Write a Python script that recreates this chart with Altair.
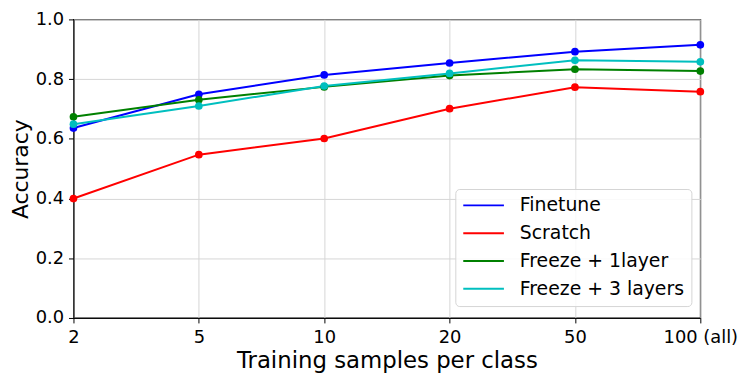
import altair as alt
import pandas as pd

categories = ["2", "5", "10", "20", "50", "100 (all)"]
series_names = ["Finetune", "Scratch", "Freeze + 1layer", "Freeze + 3 layers"]
finetune = [0.636, 0.749, 0.814, 0.854, 0.892, 0.915]
scratch = [0.400, 0.547, 0.601, 0.701, 0.773, 0.758]
freeze1 = [0.674, 0.731, 0.774, 0.812, 0.833, 0.827]
freeze3 = [0.649, 0.710, 0.777, 0.819, 0.863, 0.858]
colors = ["#0000ff", "#ff0000", "#008000", "#00bfbf"]

rows = []
for name, vals in zip(series_names, [finetune, scratch, freeze1, freeze3]):
    for c, v in zip(categories, vals):
        rows.append({"samples": c, "acc": v, "method": name})
df = pd.DataFrame(rows)

FONT = "DejaVu Sans"

x = alt.X("samples:O", sort=categories, scale=alt.Scale(padding=0),
          axis=alt.Axis(title="Training samples per class", labelAngle=0,
                        labelFontSize=18, titleFontSize=23, titleFontWeight="normal",
                        labelColor="black", titleColor="black", tickColor="black",
                        domainColor="black", tickSize=5, labelPadding=6,
                        titlePadding=3, grid=True, gridColor="#d6d6d6",
                        labelFont=FONT, titleFont=FONT))
y = alt.Y("acc:Q", scale=alt.Scale(domain=[0, 1]),
          axis=alt.Axis(title="Accuracy", values=[0, 0.2, 0.4, 0.6, 0.8, 1.0], format=".1f",
                        labelFontSize=18, titleFontSize=22, titleFontWeight="normal",
                        labelColor="black", titleColor="black", tickColor="black",
                        domainColor="black", tickSize=5, labelPadding=5,
                        titlePadding=3, grid=True, gridColor="#d6d6d6",
                        labelFont=FONT, titleFont=FONT))
color = alt.Color("method:N", sort=series_names,
                  scale=alt.Scale(domain=series_names, range=colors),
                  legend=alt.Legend(title=None, orient="none", legendX=385, legendY=171,
                                    symbolType="stroke", symbolStrokeWidth=2, symbolSize=1681,
                                    clipHeight=19, rowPadding=8, labelLimit=300,
                                    labelFontSize=19, labelFont=FONT, labelColor="black",
                                    padding=7, labelOffset=15,
                                    strokeColor="#d4d4d4", cornerRadius=4,
                                    fillColor="rgba(255,255,255,0.85)"))

lines = alt.Chart(df).mark_line(strokeWidth=2, clip=False).encode(x=x, y=y, color=color)
points = alt.Chart(df).mark_circle(size=60, opacity=1, clip=False).encode(
    x=x, y=y, color=alt.Color("method:N", scale=alt.Scale(domain=series_names, range=colors), legend=None))

chart = alt.layer(lines, points).properties(
    width=632, height=301,
    autosize=alt.AutoSizeParams(type="none"),
    padding={"left": 66, "top": 10, "right": 39, "bottom": 55},
).configure_view(stroke="black", strokeWidth=1.3)

chart.save("out.html", embed_options={"renderer": "svg", "actions": False})
